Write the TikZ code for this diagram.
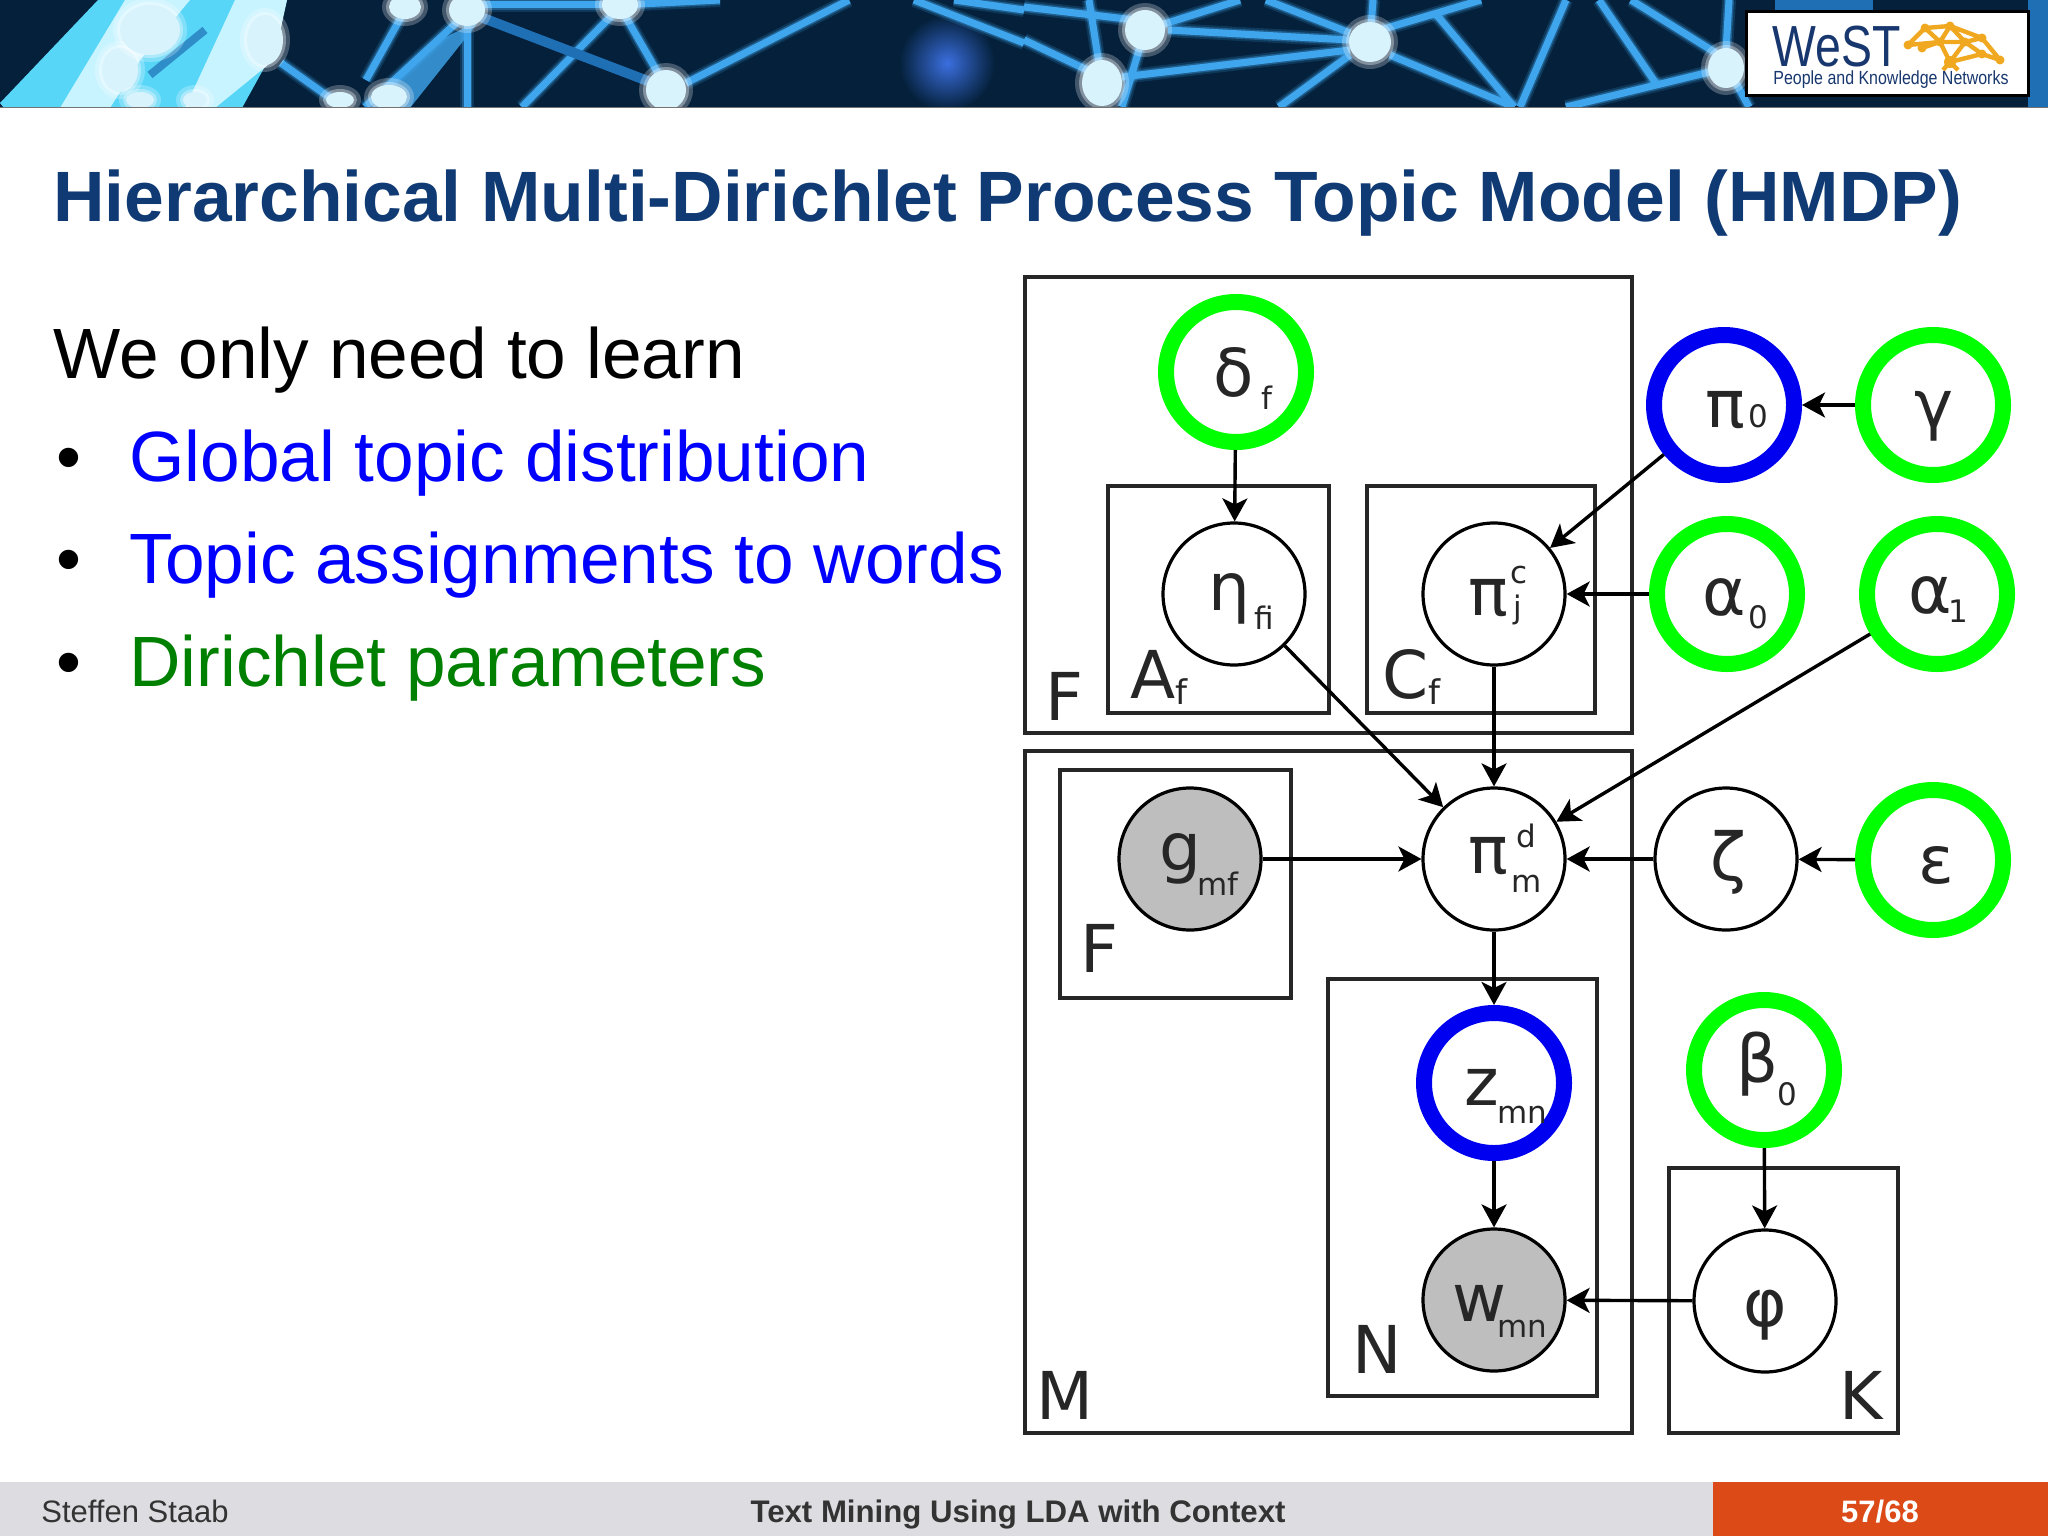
\documentclass[tikz,border=0pt]{standalone}
\usepackage{fontspec}
\setmainfont{Liberation Sans}
\newfontfamily\djfont{DejaVu Sans}
\usetikzlibrary{arrows.meta}
\definecolor{bannerbg}{HTML}{04203A}
\definecolor{bannerline}{HTML}{3FA6EE}
\definecolor{bannerdeep}{HTML}{1F6FB5}
\definecolor{bannerglow}{HTML}{3B6FDF}
\definecolor{bannercyan}{HTML}{58D6F8}
\definecolor{bannerpale}{HTML}{C8F4FF}
\definecolor{titleblue}{HTML}{0F3A73}
\definecolor{ringgreen}{HTML}{00FF00}
\definecolor{ringblue}{HTML}{0000F0}
\definecolor{nodegray}{HTML}{BEBEBE}
\definecolor{footgray}{HTML}{DDDCE0}
\definecolor{footorange}{HTML}{DC4A17}
\definecolor{footink}{HTML}{333333}
\definecolor{logoblue}{HTML}{17376E}
\definecolor{logoorange}{HTML}{F0A820}
\newdimen\pxu \pxu=.5pt
% glyph placed with its left edge and baseline at an offset (in picture pixels) from the node centre
\newcommand{\tm}[3]{\smash{\rlap{\kern#1\pxu\lower#2\pxu\hbox{\fontsize{33pt}{36pt}\selectfont #3}}}}
\newcommand{\ts}[3]{\smash{\rlap{\kern#1\pxu\lower#2\pxu\hbox{\fontsize{15.5pt}{18pt}\selectfont #3}}}}
\newcommand{\gmain}[1]{{\fontsize{33pt}{36pt}\selectfont #1}}
\newcommand{\plab}[2]{{\fontsize{33pt}{36pt}\selectfont #1}\raisebox{-3pt}{\fontsize{17pt}{18pt}\selectfont #2}}
\tikzset{
  x=0.5pt,y=-0.5pt,
  plate/.style={draw=black!85,line width=2pt},
  rv/.style={circle,draw=black,line width=1.6pt,fill=white,minimum size=71pt,inner sep=0pt,font=\djfont,text=black!85},
  obs/.style={rv,fill=nodegray},
  greenring/.style={rv,draw=ringgreen,line width=8pt,minimum size=70pt},
  bluering/.style={rv,draw=ringblue,line width=8pt,minimum size=70pt},
  link/.style={draw=black,line width=1.7pt,-{Stealth[length=11.5pt,width=12.5pt,inset=3pt]}},
  platelab/.style={anchor=base west,inner sep=0pt,font=\djfont,text=black!85},
  bodytext/.style={anchor=base west,inner sep=0pt,font=\fontsize{35.6pt}{40pt}\selectfont},
  foottext/.style={anchor=base,inner sep=0pt,font=\fontsize{15.5pt}{18pt}\selectfont},
}
\begin{document}
\begin{tikzpicture}
\useasboundingbox (0,0) rectangle (2048,1536);
\fill[white] (0,0) rectangle (2048,1536);
% banner
\begin{scope}
\clip (0,0) rectangle (2048,108);
\fill[bannerbg] (0,0) rectangle (2048,108);
\shade[inner color=bannerglow,outer color=bannerbg] (947,63) ellipse [x radius=48,y radius=48];
\foreach \ax/\ay/\bx/\by in {849/0/686/83,666/87/620/7,620/7/522/107,467/13/467/107,467/13/365/107,405/10/366/80,281/63/333/100,914/0/1024/43,954/0/1024/10,460/5/620/5,620/5/720/0,1024/40/1102/77,1024/7/1135/20,1145/30/1240/0,1168/30/1350/40,1122/77/1350/50,1089/0/1102/83,1145/30/1122/107,1266/0/1350/33,1370/42/1373/0,1370/33/1481/0,1350/55/1279/107,1390/55/1514/107,1435/13/1514/107,1566/0/1520/107,1599/0/1657/85,1631/0/1716/53,1726/68/1566/107,1729/0/1726/50,1736/83/1749/107}{
 \draw[bannerline,line width=7pt,opacity=.18] (\ax,\ay) -- (\bx,\by);
 \draw[bannerline,line width=5pt,opacity=.35] (\ax,\ay) -- (\bx,\by);
 \draw[bannerline,line width=3.5pt] (\ax,\ay) -- (\bx,\by);
}
\draw[bannerdeep,line width=5pt] (470,13) -- (653,83);
\draw[bannerdeep,line width=9pt] (1775,4) -- (1873,4);
\fill[bannerdeep] (2028,0) rectangle (2048,108);
\fill[bannerline,opacity=.8] (440,40) -- (480,20) -- (410,108) -- (370,108) -- cycle;
\fill[bannercyan] (0,103) -- (98,0) -- (287,0) -- (274,50) -- (242,108) -- (4,108) -- cycle;
\fill[bannerpale] (60,108) -- (125,0) -- (190,0) -- (140,60) -- (110,108) -- cycle;
\fill[bannerpale] (185,108) -- (235,0) -- (287,0) -- (274,60) -- (215,108) -- cycle;
\draw[bannerdeep,line width=4pt,opacity=.7] (205,30) -- (150,75);
\foreach \cx/\cy/\ra/\rb in {666/90/20/20,405/7/16/12,467/10/18/16,620/5/18/14,389/97/18/12,340/100/14/8,1145/30/20/20,1102/83/20/23,1370/42/21/20,1726/68/18/20,120/70/18/22,150/30/30/25,265/40/18/25,140/100/14/8,195/100/12/8}{
 \fill[white,opacity=.25] (\cx,\cy) ellipse [x radius=\ra+7,y radius=\rb+7];
 \fill[white,opacity=.35] (\cx,\cy) ellipse [x radius=\ra+3,y radius=\rb+3];
 \fill[white!85!cyan] (\cx,\cy) ellipse [x radius=\ra,y radius=\rb];
}
\fill[black!55] (0,107) rectangle (2048,109);
\end{scope}
% logo
\node[draw=black,line width=1.5pt,fill=white,minimum width=141pt,minimum height=42pt,inner sep=0pt] (logo) at (1887,54) {};
\begin{scope}[logoorange,line width=2.2pt]
\coordinate (w1) at (1908,45);\coordinate (w2) at (1925,28);\coordinate (w3) at (1950,26);
\coordinate (w4) at (1982,38);\coordinate (w5) at (2000,60);\coordinate (w6) at (1950,62);
\coordinate (w7) at (1940,42);\coordinate (w8) at (1965,42);\coordinate (w9) at (1982,54);\coordinate (w10) at (1922,48);
\draw (w1)--(w2)--(w3)--(w4)--(w5) (w1)--(w7)--(w8)--(w4) (w2)--(w7)--(w6)--(w8)--(w3) (w8)--(w9)--(w5) (w9)--(w6) (w10)--(w7) (w6)--(1943,70) (w6)--(1958,70) (w7)--(w3);
\foreach \p in {w1,w2,w3,w4,w5,w7,w8,w9,w10} \fill (\p) circle [radius=4.5];
\fill (w6) circle [radius=6];
\end{scope}
\node[anchor=base west,inner sep=0pt,text=logoblue,font=\fontsize{29pt}{30pt}\selectfont] (logotitle) at (1772,67) {\scalebox{.8}[1]{WeST}};
\node[anchor=base west,inner sep=0pt,text=logoblue,font=\fontsize{9.5pt}{10pt}\selectfont] (logosub) at (1773,85) {\scalebox{.84}[1]{People and Knowledge Networks}};
% title
\node[anchor=base west,inner sep=0pt,text=titleblue,font=\bfseries\fontsize{35.66pt}{40pt}\selectfont] (title) at (53,221) {Hierarchical Multi-Dirichlet Process Topic Model (HMDP)};
% body
\node[bodytext] (intro) at (53,378) {We only need to learn};
\node[bodytext] (b1) at (56,481) {•};
\node[bodytext] (b2) at (56,583) {•};
\node[bodytext] (b3) at (56,686) {•};
\node[bodytext,text=blue] (t1) at (129,481) {Global topic distribution};
\node[bodytext,text=blue] (t2) at (129,583) {Topic assignments to words};
\node[bodytext,text=black!50!green] (t3) at (129,686) {Dirichlet parameters};
% plates
\draw[plate] (1025,277) rectangle (1632,733);
\draw[plate] (1108,486) rectangle (1329,713);
\draw[plate] (1367,486) rectangle (1595,713);
\draw[plate] (1025,751) rectangle (1632,1433);
\draw[plate] (1060,770) rectangle (1291,998);
\draw[plate] (1328,979) rectangle (1597,1396);
\draw[plate] (1669,1168) rectangle (1898,1433);
\node[platelab] (pF) at (1045,720) {\gmain{F}};
\node[platelab] (pA) at (1130,698) {\plab{A}{f}};
\node[platelab] (pC) at (1382,698) {\plab{C}{f}};
\node[platelab] (pF2) at (1080,972) {\gmain{F}};
\node[platelab] (pM) at (1036,1419) {\gmain{M}};
\node[platelab] (pN) at (1352,1373) {\gmain{N}};
\node[platelab] (pK) at (1839,1419) {\gmain{K}};
% variables (offsets: left edge and baseline from the centre, in pixels)
\node[greenring] (delta) at (1236,372) {\tm{-23}{24}{δ}\ts{25}{37}{f}};
\node[rv] (eta) at (1234,594) {\tm{-26}{16}{η}\ts{20}{35}{fi}};
\node[rv] (pic) at (1494,594) {\tm{-26}{21}{π}\ts{16}{-11}{c}\ts{19}{24}{j}};
\node[bluering] (pizero) at (1724,405) {\tm{-19}{22}{π}\ts{24}{22}{0}};
\node[greenring] (gam) at (1933,405) {\tm{-19}{22}{γ}};
\node[greenring] (azero) at (1727,594) {\tm{-25}{21}{α}\ts{21}{34}{0}};
\node[greenring] (aone) at (1937,594) {\tm{-29}{19}{α}\ts{11}{28}{1}};
\node[obs] (g) at (1190,859) {\tm{-31}{11}{g}\ts{7}{36}{mf}};
\node[rv] (pid) at (1494,859) {\tm{-26}{14}{π}\ts{22}{-12}{d}\ts{17}{33}{m}};
\node[rv] (zeta) at (1726,859) {\tm{-16}{21}{ζ}};
\node[greenring] (eps) at (1933,860) {\tm{-15}{23}{ε}};
\node[bluering] (z) at (1494,1083) {\tm{-30}{22}{z}\ts{3}{40}{mn}};
\node[obs] (w) at (1494,1300) {\tm{-42}{21}{w}\ts{3}{37}{mn}};
\node[greenring] (beta) at (1764,1070) {\tm{-28}{12}{β}\ts{13}{35}{0}};
\node[rv] (phi) at (1765,1301) {\tm{-22}{25}{φ}};
% connectors
\draw[link] (delta) -- (eta);
\draw[link] (pizero) -- (pic);
\draw[link] (gam) -- (pizero);
\draw[link] (azero) -- (pic);
\draw[link] (aone) -- (pid);
\draw[link] (eta) -- (pid);
\draw[link] (pic) -- (pid);
\draw[link] (g) -- (pid);
\draw[link] (zeta) -- (pid);
\draw[link] (eps) -- (zeta);
\draw[link] (pid) -- (z);
\draw[link] (z) -- (w);
\draw[link] (phi) -- (w);
\draw[link] (beta) -- (phi);
% footer
\fill[footgray] (0,1482) rectangle (1713,1536);
\fill[footorange] (1713,1482) rectangle (2048,1536);
\node[foottext,anchor=base west,text=footink] (author) at (41,1522) {Steffen Staab};
\node[foottext,text=footink,font=\bfseries\fontsize{15.6pt}{18pt}\selectfont] (talk) at (1018,1522) {Text Mining Using LDA with Context};
\node[foottext,text=white,font=\bfseries\fontsize{15.5pt}{18pt}\selectfont] (page) at (1880,1522) {57/68};
\end{tikzpicture}
\end{document}
